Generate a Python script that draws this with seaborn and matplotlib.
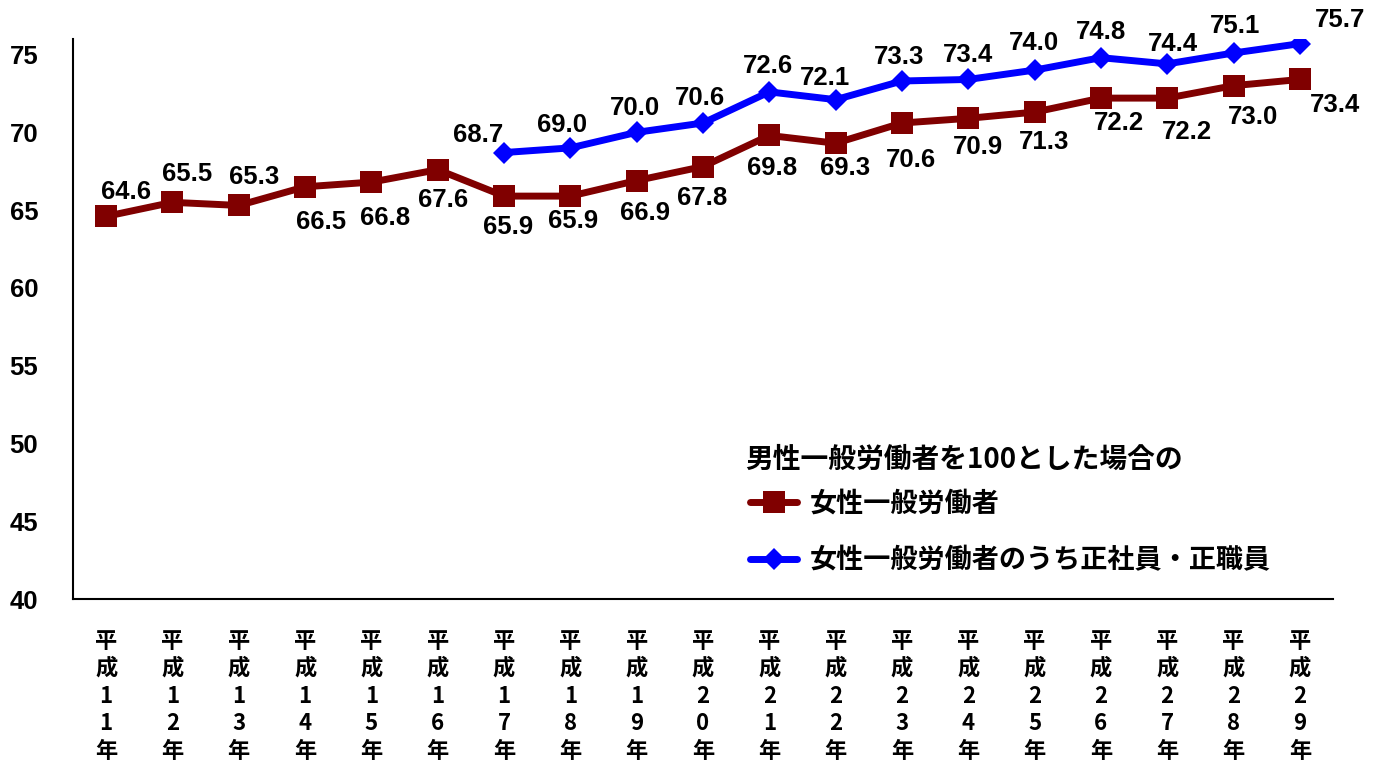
import matplotlib
matplotlib.use("Agg")
import matplotlib.pyplot as plt
import seaborn as sns
import numpy as np
import pandas as pd

# 平成11年〜平成29年
years = ["平成11年", "平成12年", "平成13年", "平成14年", "平成15年", "平成16年",
         "平成17年", "平成18年", "平成19年", "平成20年", "平成21年", "平成22年",
         "平成23年", "平成24年", "平成25年", "平成26年", "平成27年", "平成28年",
         "平成29年"]

# 女性一般労働者（男性一般労働者=100）
women_all = [64.6, 65.5, 65.3, 66.5, 66.8, 67.6, 65.9, 65.9, 66.9, 67.8,
             69.8, 69.3, 70.6, 70.9, 71.3, 72.2, 72.2, 73.0, 73.4]

# 女性一般労働者のうち正社員・正職員（平成17年から）
regular_years = years[6:]
women_regular = [68.7, 69.0, 70.0, 70.6, 72.6, 72.1, 73.3, 73.4, 74.0,
                 74.8, 74.4, 75.1, 75.7]

legend_title = "男性一般労働者を100とした場合の"
name_all = "女性一般労働者"
name_regular = "女性一般労働者のうち正社員・正職員"

yticks = [40, 45, 50, 55, 60, 65, 70, 75]

# label offsets in pixels (dx, dy) relative to each point
off_all = [(20, 24), (15, 28), (15, 28), (16, -35), (14, -36), (5, -30),
           (4, -31), (3, -25), (8, -32), (-1, -31), (3, -33), (9, -25),
           (9, -37), (10, -29), (9, -30), (18, -25), (20, -34), (19, -31),
           (35, -26)]
off_regular = [(-26, 18), (-8, 23), (-2, 24), (-3, 25), (-1, 26), (-11, 22),
               (-3, 24), (0, 24), (-1, 27), (0, 26), (6, 20), (2, 27),
               (40, 24)]

sns.set_style("white")
num_font = ["Liberation Sans", "Noto Sans CJK JP"]
cjk_font = ["Noto Sans CJK JP", "DejaVu Sans"]
plt.rcParams["font.family"] = cjk_font
plt.rcParams["text.color"] = "black"

RED = "#800000"
BLUE = "#0000FF"

W, H = 1374, 765
pos = {y: i for i, y in enumerate(years)}
df_all = pd.DataFrame({"x": [pos[y] for y in years], "v": women_all})
df_reg = pd.DataFrame({"x": [pos[y] for y in regular_years], "v": women_regular})

fig = plt.figure(figsize=(W / 100, H / 100), dpi=100)
ax = fig.add_axes([73 / W, 1 - 599 / H, (1333 - 73) / W, (599 - 39) / H])

sns.lineplot(data=df_all, x="x", y="v", ax=ax, color=RED, linewidth=5,
             marker="s", markersize=16.5, markeredgewidth=0, label=name_all)
sns.lineplot(data=df_reg, x="x", y="v", ax=ax, color=BLUE, linewidth=5,
             marker="D", markersize=11, markeredgewidth=0, label=name_regular)

for x, v, (dx, dy) in zip(df_all["x"], df_all["v"], off_all):
    ax.annotate(f"{v:.1f}", (x, v), xytext=(dx, dy), textcoords="offset pixels",
                ha="center", va="center", fontsize=18.5, fontweight="bold",
                family=num_font, color="black")
for x, v, (dx, dy) in zip(df_reg["x"], df_reg["v"], off_regular):
    ax.annotate(f"{v:.1f}", (x, v), xytext=(dx, dy), textcoords="offset pixels",
                ha="center", va="center", fontsize=18.5, fontweight="bold",
                family=num_font, color="black")

ax.set_xlim(-0.5, len(years) - 0.5)
ax.set_ylim(40, 76)
ax.set_xlabel("")
ax.set_ylabel("")

# y axis
ax.set_yticks(yticks)
ax.set_yticklabels([str(t) for t in yticks], fontsize=18.5, fontweight="bold",
                   family=num_font)
ax.tick_params(axis="y", direction="in", length=7, width=1.5, color="#999999",
               pad=25, labelcolor="black")

# x axis: stacked vertical labels, boundary ticks
ax.set_xticks(range(len(years)))
ax.set_xticklabels(["\n".join(list(y)) for y in years], fontsize=16,
                   fontweight="bold", linespacing=1.25)
ax.tick_params(axis="x", which="major", length=0, pad=22, labelcolor="black")
ax.set_xticks(np.arange(0.5, len(years) - 0.4, 1.0), minor=True)
ax.tick_params(axis="x", which="minor", direction="in", length=7, width=1.2,
               color="#999999")

for side in ["top", "right"]:
    ax.spines[side].set_visible(False)
for side in ["left", "bottom"]:
    ax.spines[side].set_color("black")
    ax.spines[side].set_linewidth(1.5)

# legend heading and entries
fig.text(745 / W, 1 - 460 / H, legend_title, ha="left", va="center",
         fontsize=20, fontweight="bold", family=cjk_font, color="black")
leg = ax.legend(loc="center left", bbox_to_anchor=(750 / W, 1 - 532 / H),
                bbox_transform=fig.transFigure, frameon=False,
                borderpad=0, borderaxespad=0,
                handlelength=1.75, handletextpad=0.45, labelspacing=1.05,
                prop={"family": cjk_font, "weight": "bold", "size": 19.5})
for t in leg.get_texts():
    t.set_color("black")

fig.savefig("out.png", dpi=100)
